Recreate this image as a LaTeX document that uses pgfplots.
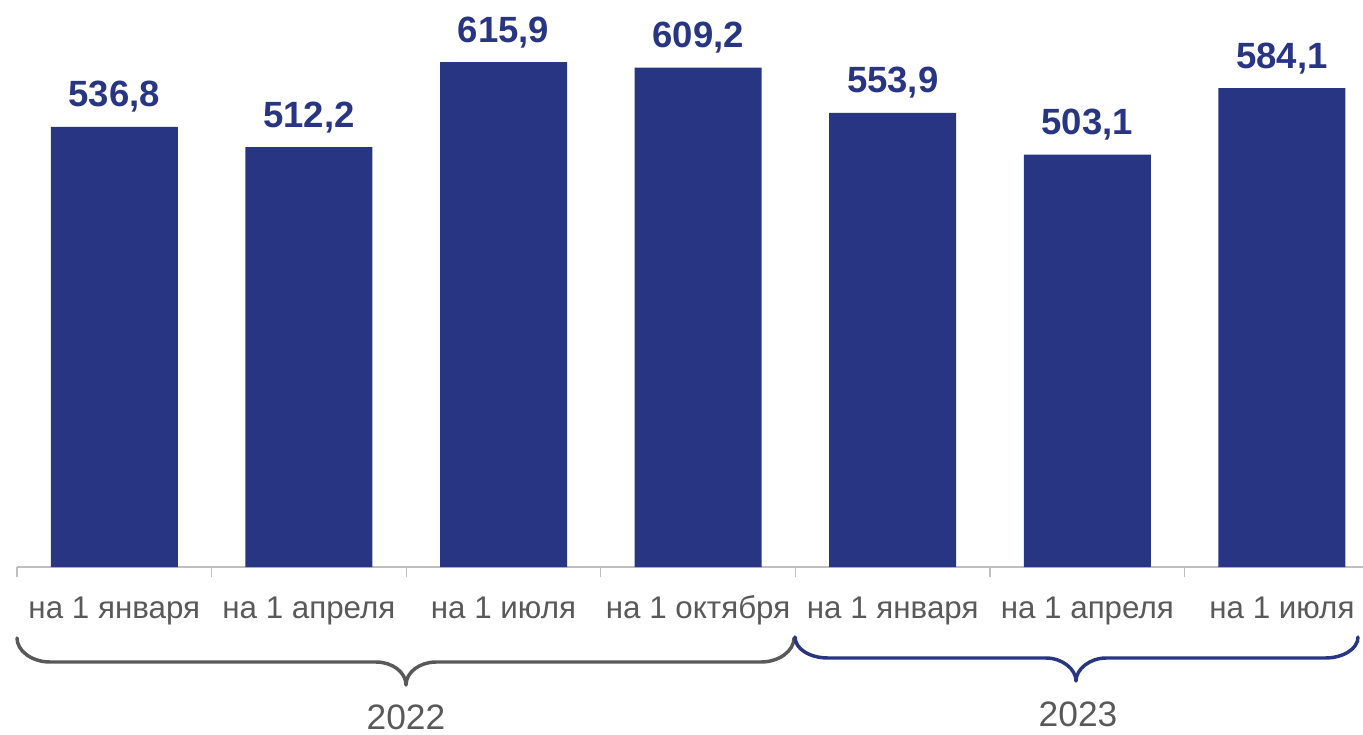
\documentclass[border=0pt]{standalone}
\usepackage{fontspec}
\setmainfont{Liberation Sans}
\usepackage{pgfplots}
\pgfplotsset{compat=1.18}
\definecolor{barblue}{HTML}{283583}
\definecolor{txtgray}{HTML}{595959}
\definecolor{axgray}{HTML}{BFBFBF}
\begin{document}
\begin{tikzpicture}
% 1 px of the reference = 0.75pt
\useasboundingbox (0,0) rectangle (1022.25pt,-551.25pt);
\begin{axis}[
  at={(12.75pt,-425.25pt)}, anchor=south west,
  scale only axis, width=1009.5pt, height=425.25pt,
  ymin=0, ymax=691.7,
  xmin=-0.5, xmax=6.417,
  ybar, bar width=95.25pt,
  axis x line*=bottom, axis y line=none,
  x axis line style={-, draw=axgray, line width=1.5pt},
  xtick={0,...,6},
  xticklabels={на 1 января, на 1 апреля, на 1 июля, на 1 октября, на 1 января, на 1 апреля, на 1 июля},
  minor xtick={-0.5,0.5,...,5.5},
  major tick length=0pt, minor tick length=7.5pt,
  tick align=outside,
  minor tick style={draw=axgray, line width=1pt},
  xticklabel style={font=\fontsize{23.5}{27}\selectfont, text=txtgray, anchor=base, yshift=-38.25pt},
  clip=false,
  nodes near coords={\pgfmathprintnumber[fixed,fixed zerofill,precision=1,use comma,assume math mode=true]{\pgfplotspointmeta}},
  every node near coord/.append style={font=\fontsize{27.4}{32}\selectfont\bfseries, text=barblue, anchor=base, inner sep=0pt, yshift=15pt},
]
\addplot[fill=barblue, draw=none] coordinates {
  (0,536.8) (1,512.2) (2,615.9) (3,609.2) (4,553.9) (5,503.1) (6,584.1)
};
\end{axis}
\begin{scope}[x=0.75pt, y=-0.75pt, line width=2.6pt, line cap=round, line join=round]
% 2022 brace
\draw[txtgray] (17,638) .. controls (17,651) and (32,662) .. (50,662) -- (376,662)
  .. controls (392,662) and (406,672) .. (406,685)
  .. controls (406,672) and (420,662) .. (436,662)
  -- (761,662) .. controls (779,662) and (794,651) .. (794,638);
% 2023 brace
\draw[barblue] (795,637) .. controls (795,649) and (810,658) .. (828,658) -- (1046,658)
  .. controls (1062,658) and (1076,669) .. (1076,681)
  .. controls (1076,669) and (1090,658) .. (1106,658)
  -- (1325,658) .. controls (1343,658) and (1358,649) .. (1358,637);
\node[text=txtgray, font=\fontsize{26.5}{30}\selectfont, inner sep=0pt] at (406,717) {2022};
\node[text=txtgray, font=\fontsize{26.5}{30}\selectfont, inner sep=0pt] at (1078,714) {2023};
\end{scope}
\end{tikzpicture}
\end{document}
